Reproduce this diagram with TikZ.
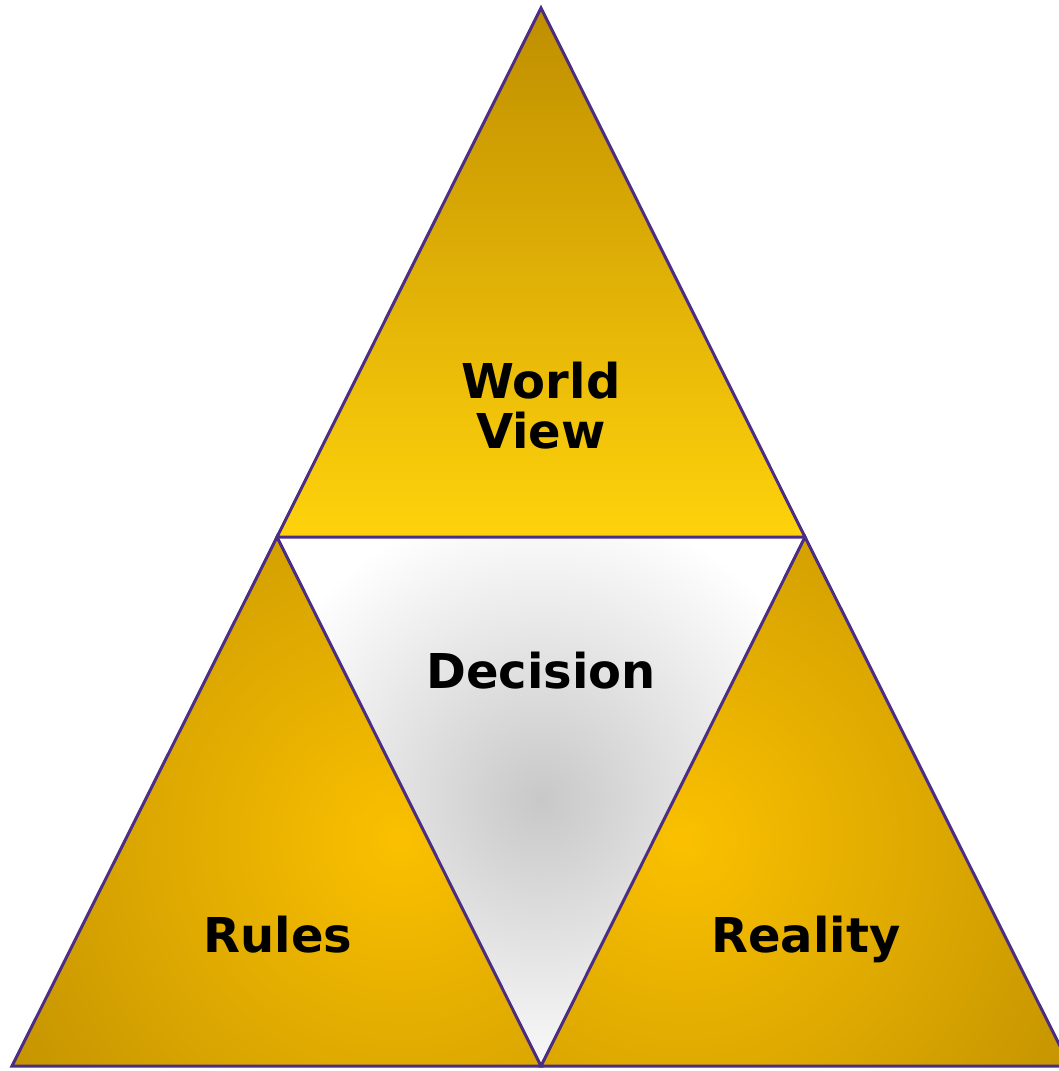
\documentclass[tikz,border=0pt]{standalone}
\usepackage{fontspec}
\setmainfont{DejaVu Sans}
\definecolor{edge}{HTML}{4B2E84}
\definecolor{golddark}{HTML}{B88A02}
\definecolor{goldtop}{HTML}{BF8E00}
\definecolor{goldbright}{HTML}{FFD20C}
\definecolor{goldmid}{HTML}{FAC000}
\definecolor{greyc}{HTML}{C8C8C8}
\begin{document}
\begin{tikzpicture}[x=1pt,y=-1pt,
  edgeline/.style={draw=edge,line width=3pt,line join=miter},
  lbl/.style={font=\bfseries\fontsize{48}{51}\selectfont,align=center,text=black,inner sep=0pt,anchor=base}]
\useasboundingbox (0,0) rectangle (1058,1071);
% coordinates
\coordinate (T) at (541,8);
\coordinate (ML) at (277,537);
\coordinate (MR) at (805,537);
\coordinate (BL) at (12,1066);
\coordinate (BM) at (541,1066);
\coordinate (BR) at (1070,1066);
% top triangle
\shade[top color=goldtop,bottom color=goldbright] (T) -- (ML) -- (MR) -- cycle;
% left triangle
\begin{scope}
\clip (ML) -- (BL) -- (BM) -- cycle;
\shade[inner color=goldmid,outer color=golddark] (400,840) circle (560);
\end{scope}
% right triangle
\begin{scope}
\clip (MR) -- (BM) -- (BR) -- cycle;
\shade[inner color=goldmid,outer color=golddark] (682,840) circle (560);
\end{scope}
% middle triangle
\begin{scope}
\clip (ML) -- (MR) -- (BM) -- cycle;
\shade[inner color=greyc,outer color=white] (541,800) circle (300);
\end{scope}
% outlines
\draw[edgeline] (T) -- (ML) -- (MR) -- cycle;
\draw[edgeline] (ML) -- (BL) -- (BM) -- cycle;
\draw[edgeline] (MR) -- (BM) -- (BR) -- cycle;
% labels
\node[lbl] (world) at (541,398) {World};
\node[lbl] (view) at (541,448) {View};
\node[lbl] (decision) at (541,688) {Decision};
\node[lbl] (rules) at (278,952) {Rules};
\node[lbl] (reality) at (806,952) {Reality};
\end{tikzpicture}
\end{document}
